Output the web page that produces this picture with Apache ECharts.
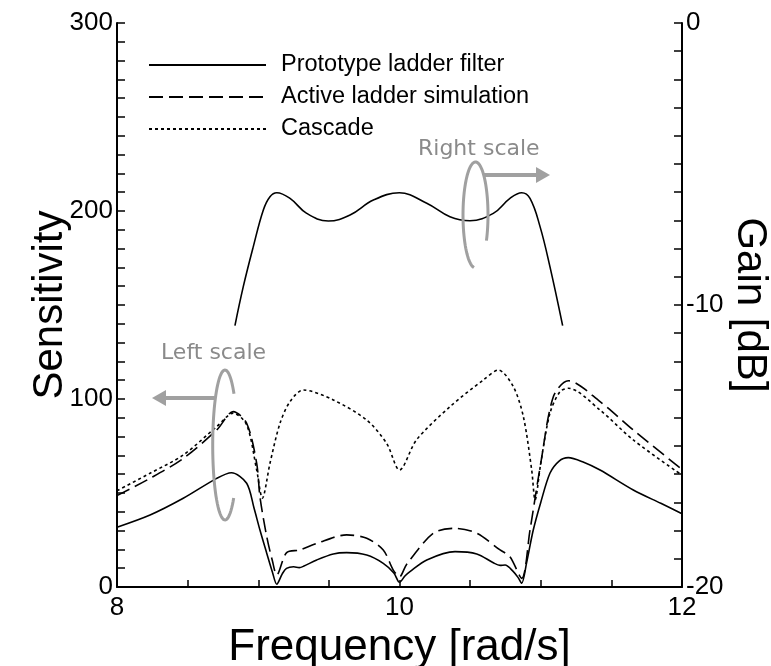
<!DOCTYPE html>
<html lang="en">

<head>
  <meta charset="UTF-8" />
  <title>Sensitivity and gain</title>
  <script src="https://cdn.jsdelivr.net/npm/echarts@6/dist/echarts.min.js"></script>
  <style>
    html,
    body {
      margin: 0;
      padding: 0;
      background: #fff;
    }

    #chart {
      width: 771px;
      height: 666px;
    }
  </style>
</head>

<body>
  <div id="chart"></div>

  <script>
    // 数据
    const protoFreq = [8.0, 8.234, 8.469, 8.706, 8.81, 8.918, 8.97, 9.012, 9.06, 9.1, 9.131, 9.17, 9.2, 9.25, 9.29, 9.32,
      9.414, 9.531, 9.626, 9.768, 9.885, 9.96, 10.0, 10.04, 10.074, 10.193, 10.393, 10.547, 10.664, 10.712, 10.747,
      10.806, 10.84, 10.865, 10.9, 10.947, 11.0, 11.065, 11.13, 11.195, 11.3, 11.42, 11.655, 11.85, 12.0];
    const protoSens = [31.8, 38.3, 47.2, 57.8, 60.8, 55.2, 42, 30.3, 18, 8, 1.5, 7, 9.9, 10.8, 10.3, 11,
      14.4, 17.6, 18.3, 17, 12.6, 7.5, 2.5, 6, 8.2, 14.4, 18.8, 17.6, 12.9, 11.5, 11.7,
      8.2, 5, 2, 13, 30.3, 45, 60.5, 67, 68.8, 66.5, 62.2, 51.6, 44.5, 39];

    const activeFreq = [8.0, 8.234, 8.469, 8.706, 8.823, 8.918, 8.989, 9.012, 9.06, 9.1, 9.131, 9.201, 9.296, 9.414,
      9.626, 9.768, 9.885, 9.956, 10.0, 10.05, 10.24, 10.393, 10.547, 10.712, 10.782, 10.865, 10.924, 11.0, 11.089,
      11.195, 11.42, 11.655, 12.0];
    const activeSens = [48.6, 57.8, 68.4, 83.5, 93.3, 87.1, 65.8, 48, 26.8, 14, 6.4, 18.3, 19.7, 23.2,
      27.7, 25.9, 19.7, 9, 5.5, 12, 28.6, 31.2, 28.6, 19.7, 16.1, 4.6, 30.3, 65.8, 101.2,
      109.7, 98.6, 83.5, 62.5];

    const cascadeFreq = [8.0, 8.234, 8.469, 8.706, 8.823, 8.918, 8.989, 9.029, 9.083, 9.154, 9.225, 9.319, 9.531,
      9.768, 9.909, 10.0, 10.12, 10.357, 10.593, 10.7, 10.806, 10.877, 10.936, 10.96, 11.0, 11.065, 11.136, 11.195,
      11.42, 11.655, 12.0];
    const cascadeSens = [51.2, 60.5, 70.2, 85.3, 92.5, 86.2, 62.2, 47.2, 65.8, 87.1, 98.6, 104.8, 99.5,
      88.8, 76.4, 62.2, 78.2, 95.9, 110.1, 115.4, 106.5, 90.6, 62.2, 46.3, 65.8, 92.4, 103.9, 105.7,
      94.1, 78.2, 59.5];

    // 原型梯形滤波器增益（右轴, dB）
    const gainFreq = [8.835, 8.894, 8.965, 9.036, 9.083, 9.131, 9.225, 9.343, 9.496, 9.65, 9.815, 9.999, 10.193,
      10.357, 10.499, 10.664, 10.782, 10.865, 10.924, 10.995, 11.065, 11.155];
    const gainDb = [-10.73, -9.35, -7.93, -6.63, -6.16, -6.02, -6.22, -6.75, -7.02, -6.81, -6.28, -6.02, -6.39,
      -6.87, -7.01, -6.75, -6.22, -6.02, -6.22, -7.22, -8.64, -10.73];

    const seriesNames = ['Prototype ladder filter', 'Active ladder simulation', 'Cascade'];
    const xLabels = [8, 10, 12];
    const leftLabels = [0, 100, 200, 300];
    const rightLabels = [0, -10, -20];

    const zip = (xs, ys) => xs.map((x, i) => [x, ys[i]]);

    const chart = echarts.init(document.getElementById('chart'));

    const axisFont = 'Liberation Sans, Arial, sans-serif';
    const noteFont = 'DejaVu Sans, sans-serif';
    const grey = '#a0a0a0';
    const greyText = '#8a8a8a';

    // 椭圆（部分弧）
    function ellipsePts(cx, cy, rx, ry, a0, a1) {
      const pts = [];
      for (let a = a0; a <= a1; a += 4) {
        const t = a * Math.PI / 180;
        pts.push([cx + rx * Math.cos(t), cy + ry * Math.sin(t)]);
      }
      return pts;
    }

    function arrow(x0, x1, y, dir) {
      const head = 14;
      return [
        {
          type: 'line',
          shape: { x1: x0, y1: y, x2: x1 - dir * head, y2: y },
          style: { stroke: grey, lineWidth: 4 }
        },
        {
          type: 'polygon',
          shape: { points: [[x1, y], [x1 - dir * head, y - 8], [x1 - dir * head, y + 8]] },
          style: { fill: grey }
        }
      ];
    }

    const tickLabel = { fontFamily: axisFont, fontSize: 26, color: '#000' };

    const option = {
      animation: false,
      grid: { left: 117, right: 89, top: 23, bottom: 79, outerBoundsMode: 'none', containLabel: false },
      legend: {
        data: seriesNames,
        orient: 'vertical',
        left: 143,
        top: 48,
        itemWidth: 117,
        itemHeight: 14,
        itemGap: 8,
        itemStyle: { opacity: 0 },
        textStyle: { fontFamily: axisFont, fontSize: 23.5, color: '#000', padding: [0, 0, 0, 10] }
      },
      xAxis: {
        type: 'value',
        min: 8,
        max: 12,
        interval: 0.5,
        name: 'Frequency [rad/s]',
        nameLocation: 'middle',
        nameGap: 29,
        nameTextStyle: { fontFamily: axisFont, fontSize: 44, color: '#000' },
        axisLine: { lineStyle: { color: '#000', width: 2 } },
        axisTick: { inside: true, length: 7, lineStyle: { color: '#000', width: 1.5 } },
        axisLabel: Object.assign({}, tickLabel, {
          margin: 8,
          formatter: v => (xLabels.includes(v) ? String(v) : '')
        }),
        splitLine: { show: false }
      },
      yAxis: [
        {
          type: 'value',
          min: 0,
          max: 300,
          interval: 10,
          name: 'Sensitivity',
          nameLocation: 'middle',
          nameGap: 46,
          nameMoveOverlap: false,
          nameTextStyle: { fontFamily: axisFont, fontSize: 42, color: '#000' },
          axisLine: { show: true, lineStyle: { color: '#000', width: 2 } },
          axisTick: { show: true, inside: true, length: 8, lineStyle: { color: '#000', width: 1.5 } },
          axisLabel: Object.assign({}, tickLabel, {
            margin: 4,
            formatter: v => (leftLabels.includes(v) ? String(v) : '')
          }),
          splitLine: { show: false }
        },
        {
          type: 'value',
          min: -20,
          max: 0,
          interval: 1,
          position: 'right',
          name: 'Gain [dB]',
          nameLocation: 'middle',
          nameRotate: -90,
          nameGap: 47,
          nameMoveOverlap: false,
          nameTextStyle: { fontFamily: axisFont, fontSize: 42, color: '#000' },
          axisLine: { show: true, lineStyle: { color: '#000', width: 2 } },
          axisTick: { show: true, inside: true, length: 8, lineStyle: { color: '#000', width: 1.5 } },
          axisLabel: Object.assign({}, tickLabel, {
            margin: 4,
            formatter: v => (rightLabels.includes(v) ? String(v) : '')
          }),
          splitLine: { show: false }
        }
      ],
      series: [
        {
          name: seriesNames[0],
          type: 'line',
          data: zip(protoFreq, protoSens),
          symbol: 'none',
          smooth: 0.3,
          lineStyle: { color: '#000', width: 1.6, type: 'solid' },
          itemStyle: { color: '#000' }
        },
        {
          name: seriesNames[1],
          type: 'line',
          data: zip(activeFreq, activeSens),
          symbol: 'none',
          smooth: 0.3,
          lineStyle: { color: '#000', width: 1.6, type: [14, 6] },
          itemStyle: { color: '#000' }
        },
        {
          name: seriesNames[2],
          type: 'line',
          data: zip(cascadeFreq, cascadeSens),
          symbol: 'none',
          smooth: 0.3,
          lineStyle: { color: '#000', width: 1.6, type: [3, 3] },
          itemStyle: { color: '#000' }
        },
        {
          name: 'Gain',
          type: 'line',
          yAxisIndex: 1,
          data: zip(gainFreq, gainDb),
          symbol: 'none',
          smooth: 0.4,
          lineStyle: { color: '#000', width: 1.6 },
          itemStyle: { color: '#000' }
        }
      ],
      graphic: [
        {
          type: 'text', left: 418, top: 138,
          style: { text: 'Right scale', fill: greyText, font: '22px ' + noteFont }
        },
        {
          type: 'polyline', z: 10,
          shape: { points: ellipsePts(475.5, 215, 12.5, 53, 97, 392) },
          style: { stroke: grey, lineWidth: 3, fill: null }
        },
        ...arrow(484, 550, 175, 1),
        {
          type: 'text', left: 161, top: 342,
          style: { text: 'Left scale', fill: greyText, font: '22px ' + noteFont }
        },
        {
          type: 'polyline', z: 10,
          shape: { points: ellipsePts(225, 445, 12.3, 75, 45, 318) },
          style: { stroke: grey, lineWidth: 3, fill: null }
        },
        ...arrow(216, 152, 398, -1)
      ]
    };

    chart.setOption(option);
  </script>
</body>

</html>
